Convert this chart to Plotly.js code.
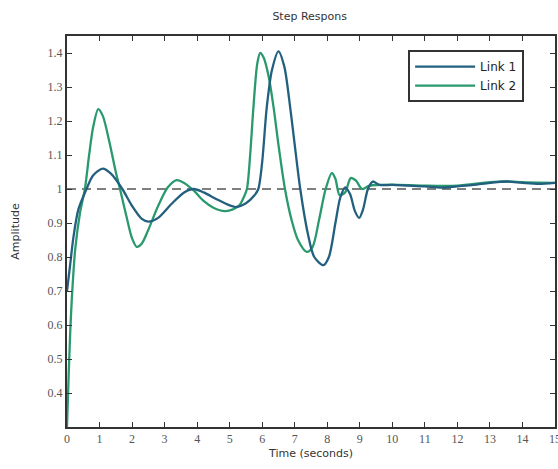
<!DOCTYPE html>
<html>
<head>
<meta charset="utf-8">
<script src="https://cdn.plot.ly/plotly-3.0.1.min.js"></script>
<style>html,body{margin:0;padding:0;background:#fff;}#chart{width:558px;height:469px;}</style>
</head>
<body>
<div id="chart"></div>
<script>
// Link 1 (blue)
var link1Time = [0, 0.1, 0.2, 0.35, 0.6, 0.8, 1.1, 1.35, 1.7, 2.0, 2.3, 2.5, 2.8, 3.2, 3.6, 3.9, 4.2, 4.6, 5.0, 5.2, 5.5, 5.75, 5.88, 6.0, 6.14, 6.3, 6.5, 6.68, 6.86, 7.0, 7.17, 7.4, 7.6, 7.88, 8.05, 8.25, 8.4, 8.55, 8.7, 8.85, 8.98, 9.1, 9.25, 9.4, 9.6, 10, 10.5, 11, 11.5, 12, 12.5, 13, 13.5, 14, 14.5, 15];
var link1Amp  = [0.70, 0.78, 0.86, 0.94, 1.0, 1.04, 1.06, 1.045, 1.0, 0.95, 0.912, 0.904, 0.915, 0.955, 0.99, 1.0, 0.99, 0.97, 0.952, 0.947, 0.958, 0.98, 1.0, 1.08, 1.24, 1.35, 1.405, 1.36, 1.24, 1.13, 1.0, 0.87, 0.80, 0.776, 0.80, 0.90, 0.975, 1.005, 0.985, 0.935, 0.915, 0.94, 1.0, 1.022, 1.012, 1.012, 1.01, 1.008, 1.004, 1.008, 1.012, 1.018, 1.022, 1.018, 1.015, 1.018];
// Link 2 (green)
var link2Time = [0, 0.05, 0.1, 0.15, 0.25, 0.4, 0.55, 0.68, 0.8, 0.96, 1.1, 1.3, 1.5, 1.63, 1.85, 2.0, 2.14, 2.3, 2.5, 2.8, 3.1, 3.37, 3.6, 3.9, 4.2, 4.5, 4.86, 5.1, 5.3, 5.43, 5.53, 5.63, 5.73, 5.85, 5.94, 6.05, 6.2, 6.35, 6.5, 6.7, 6.9, 7.1, 7.37, 7.55, 7.75, 7.95, 8.14, 8.25, 8.38, 8.55, 8.72, 8.88, 9.07, 9.3, 9.6, 10, 11, 12, 13, 13.6, 14, 15];
var link2Amp  = [0.30, 0.45, 0.58, 0.68, 0.82, 0.93, 1.0, 1.1, 1.18, 1.235, 1.215, 1.14, 1.05, 1.0, 0.91, 0.855, 0.83, 0.84, 0.88, 0.95, 1.005, 1.026, 1.018, 0.995, 0.965, 0.945, 0.935, 0.94, 0.952, 0.975, 1.0, 1.1, 1.24, 1.37, 1.40, 1.385, 1.33, 1.24, 1.13, 1.0, 0.91, 0.85, 0.815, 0.83, 0.91, 1.0, 1.047, 1.03, 0.982, 0.99, 1.032, 1.025, 1.0, 1.01, 1.012, 1.013, 1.01, 1.01, 1.02, 1.022, 1.02, 1.018];
var refLevel = [1, 1];
var refTime = [0, 15];
var xTicks = [0,1,2,3,4,5,6,7,8,9,10,11,12,13,14,15];
var yTicks = [0.4,0.5,0.6,0.7,0.8,0.9,1,1.1,1.2,1.3,1.4];
var yTickText = ['0.4','0.5','0.6','0.7','0.8','0.9','1','1.1','1.2','1.3','1.4'];

var traces = [
  {x: refTime, y: refLevel, mode: 'lines', showlegend: false, hoverinfo: 'skip',
   line: {color: '#555555', width: 1.5, dash: '9px,6px'}},
  {x: link2Time, y: link2Amp, mode: 'lines', name: 'Link 2',
   line: {color: '#2a9a6e', width: 2.3, shape: 'spline', smoothing: 0.8}},
  {x: link1Time, y: link1Amp, mode: 'lines', name: 'Link 1',
   line: {color: '#23607f', width: 2.3, shape: 'spline', smoothing: 0.8}}
];

var axisCommon = {
  showgrid: false, zeroline: false, showline: true, linecolor: '#333', linewidth: 2,
  mirror: 'ticks', ticks: 'inside', ticklen: 5, tickwidth: 1, tickcolor: '#333',
  ticklabeloverflow: 'allow',
  tickfont: {family: 'Liberation Serif, serif', size: 12, color: '#555'}
};
var layout = {
  width: 558, height: 469,
  margin: {l: 67, r: 3, t: 36, b: 42},
  paper_bgcolor: '#ffffff', plot_bgcolor: '#ffffff',
  title: {text: 'Step Respons', x: 0.555, xanchor: 'center', y: 0.965, yanchor: 'middle',
          font: {family: 'DejaVu Sans, sans-serif', size: 11, color: '#333'}},
  xaxis: Object.assign({}, axisCommon, {range: [0, 15], tickvals: xTicks,
          title: {text: 'Time (seconds)', standoff: 4, font: {family: 'DejaVu Sans, sans-serif', size: 11, color: '#333'}}}),
  yaxis: Object.assign({}, axisCommon, {range: [0.3, 1.45], tickvals: yTicks, ticktext: yTickText,
          title: {text: 'Amplitude', standoff: 26, font: {family: 'DejaVu Sans, sans-serif', size: 11, color: '#333'}}}),
  legend: {x: 0.699, y: 0.964, xanchor: 'left', yanchor: 'top', bgcolor: '#ffffff',
           bordercolor: '#333', borderwidth: 2, itemwidth: 60, traceorder: 'reversed',
           font: {family: 'DejaVu Sans, sans-serif', size: 12, color: '#222'}},
  showlegend: true
};
Plotly.newPlot('chart', traces, layout, {staticPlot: true, displayModeBar: false});
</script>
</body>
</html>
